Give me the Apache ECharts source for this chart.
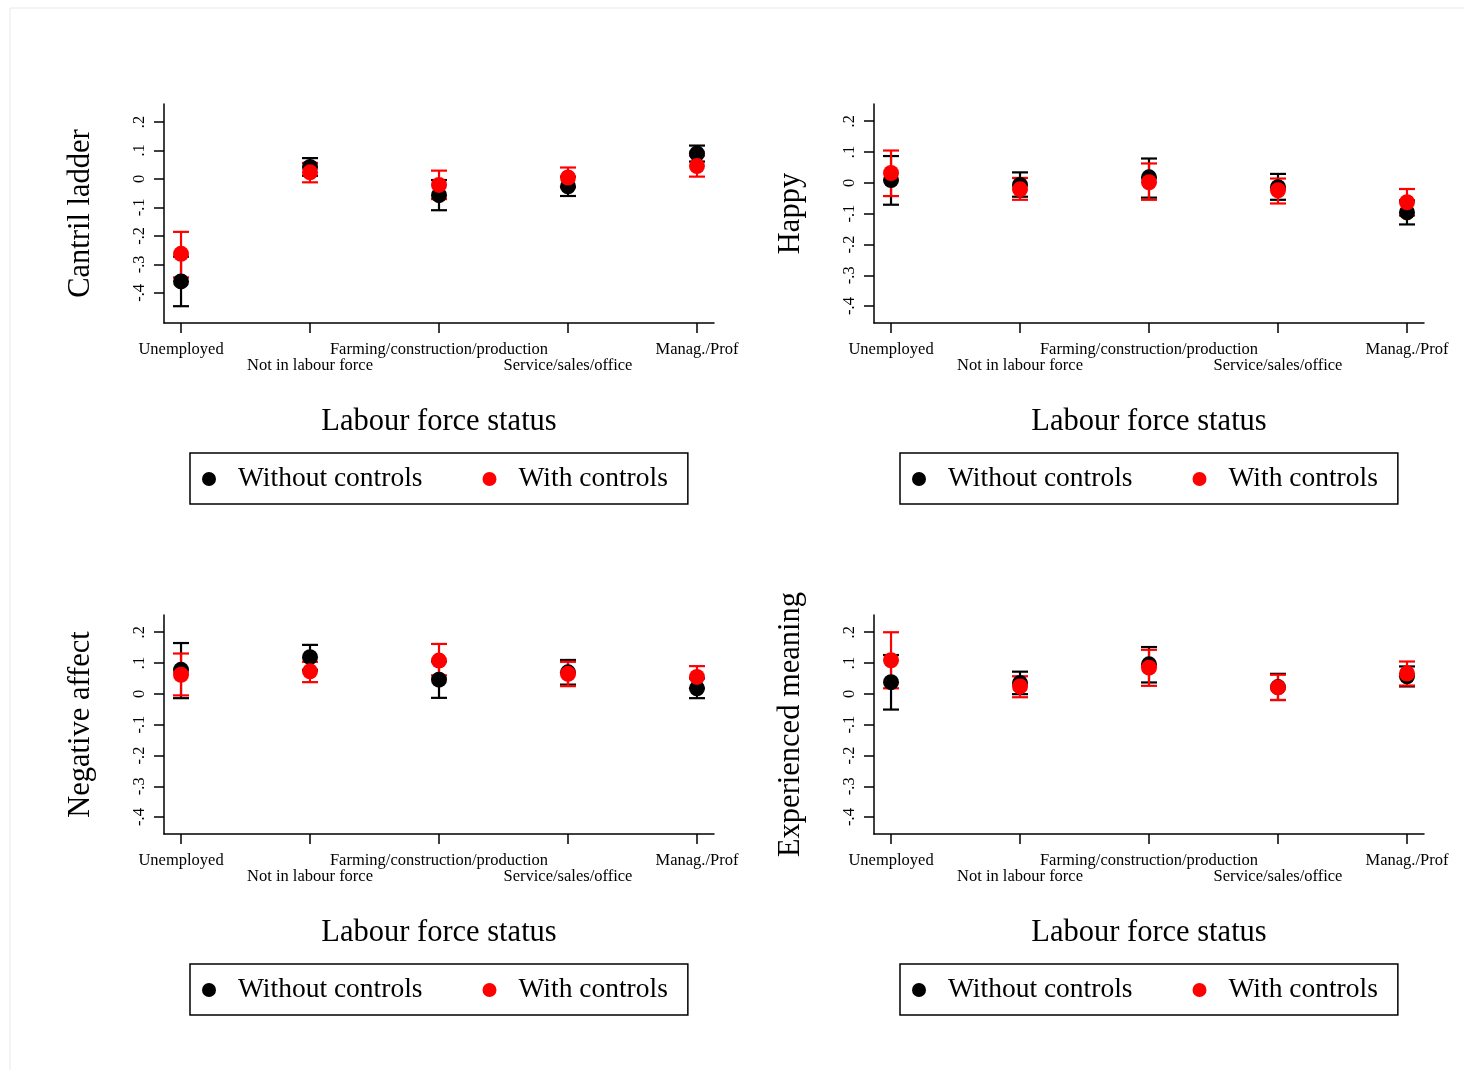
<!DOCTYPE html>
<html>
<head>
<meta charset="utf-8">
<title>Labour force status</title>
<script src="https://cdn.jsdelivr.net/npm/echarts@6/dist/echarts.min.js"></script>
<style>
  html, body { margin: 0; padding: 0; background: #fff; }
  #chart { width: 1464px; height: 1070px; }
</style>
</head>
<body>
<div id="chart"></div>
<script>
// categories and tick labels
const categories = ['Unemployed', 'Not in labour force', 'Farming/construction/production', 'Service/sales/office', 'Manag./Prof']
const yTicks = [-0.4, -0.3, -0.2, -0.1, 0, 0.1, 0.2]
const yTickLabels = ['-.4', '-.3', '-.2', '-.1', '0', '.1', '.2']

// Cantril ladder
const cantrilNoCtrl = [-0.360, 0.042, -0.057, -0.026, 0.089]
const cantrilNoCtrlLo = [-0.447, 0.011, -0.110, -0.060, 0.061]
const cantrilNoCtrlHi = [-0.273, 0.073, -0.004, 0.008, 0.117]
const cantrilCtrl = [-0.263, 0.023, -0.021, 0.005, 0.045]
const cantrilCtrlLo = [-0.346, -0.012, -0.071, -0.030, 0.008]
const cantrilCtrlHi = [-0.186, 0.056, 0.029, 0.040, 0.082]

// Happy
const happyNoCtrl = [0.009, -0.007, 0.018, -0.014, -0.096]
const happyNoCtrlLo = [-0.071, -0.045, -0.048, -0.055, -0.135]
const happyNoCtrlHi = [0.087, 0.034, 0.079, 0.029, -0.057]
const happyCtrl = [0.032, -0.021, 0.002, -0.024, -0.063]
const happyCtrlLo = [-0.043, -0.055, -0.055, -0.067, -0.106]
const happyCtrlHi = [0.105, 0.016, 0.063, 0.014, -0.020]

// Negative affect
const negNoCtrl = [0.078, 0.119, 0.046, 0.070, 0.018]
const negNoCtrlLo = [-0.014, 0.078, -0.013, 0.030, -0.014]
const negNoCtrlHi = [0.165, 0.159, 0.105, 0.110, 0.050]
const negCtrl = [0.062, 0.073, 0.108, 0.065, 0.055]
const negCtrlLo = [-0.005, 0.038, 0.060, 0.025, 0.018]
const negCtrlHi = [0.131, 0.104, 0.162, 0.104, 0.090]

// Experienced meaning
const meanNoCtrl = [0.038, 0.035, 0.096, 0.022, 0.057]
const meanNoCtrlLo = [-0.051, -0.001, 0.037, -0.020, 0.024]
const meanNoCtrlHi = [0.126, 0.072, 0.152, 0.065, 0.089]
const meanCtrl = [0.109, 0.024, 0.085, 0.021, 0.066]
const meanCtrlLo = [0.018, -0.011, 0.026, -0.020, 0.027]
const meanCtrlHi = [0.200, 0.057, 0.143, 0.062, 0.105]

const FONT = "'Liberation Serif', 'Times New Roman', serif"
const BLACK = '#000000'
const RED = '#ff0000'

const panels = [
  { title: 'Cantril ladder', left: 164, top: 104, ymin: -0.506, ymax: 0.263,
    noCtrl: [cantrilNoCtrl, cantrilNoCtrlLo, cantrilNoCtrlHi], ctrl: [cantrilCtrl, cantrilCtrlLo, cantrilCtrlHi] },
  { title: 'Happy', left: 874, top: 104, ymin: -0.455, ymax: 0.256,
    noCtrl: [happyNoCtrl, happyNoCtrlLo, happyNoCtrlHi], ctrl: [happyCtrl, happyCtrlLo, happyCtrlHi] },
  { title: 'Negative affect', left: 164, top: 615, ymin: -0.455, ymax: 0.256,
    noCtrl: [negNoCtrl, negNoCtrlLo, negNoCtrlHi], ctrl: [negCtrl, negCtrlLo, negCtrlHi] },
  { title: 'Experienced meaning', left: 874, top: 615, ymin: -0.455, ymax: 0.256,
    noCtrl: [meanNoCtrl, meanNoCtrlLo, meanNoCtrlHi], ctrl: [meanCtrl, meanCtrlLo, meanCtrlHi] }
]

const catIdx = categories.map((c, i) => i)

function errorBars(name, idx, vals, color) {
  return {
    name: name,
    type: 'custom',
    xAxisIndex: idx,
    yAxisIndex: idx,
    itemStyle: { color: color },
    data: catIdx.map(i => [i, vals[1][i], vals[2][i]]),
    renderItem: function (params, api) {
      const lo = api.coord([api.value(0), api.value(1)])
      const hi = api.coord([api.value(0), api.value(2)])
      const hw = 8
      const style = { stroke: color, lineWidth: 2.2 }
      return {
        type: 'group',
        children: [
          { type: 'line', shape: { x1: lo[0], y1: lo[1], x2: hi[0], y2: hi[1] }, style: style },
          { type: 'line', shape: { x1: lo[0] - hw, y1: lo[1], x2: lo[0] + hw, y2: lo[1] }, style: style },
          { type: 'line', shape: { x1: hi[0] - hw, y1: hi[1], x2: hi[0] + hw, y2: hi[1] }, style: style }
        ]
      }
    }
  }
}

function points(name, idx, vals, color) {
  return {
    name: name,
    type: 'scatter',
    xAxisIndex: idx,
    yAxisIndex: idx,
    symbol: 'circle',
    symbolSize: 16,
    itemStyle: { color: color, opacity: 1 },
    data: catIdx.map(i => [i, vals[0][i]])
  }
}

const grid = [], xAxis = [], yAxis = [], series = [], legend = []

panels.forEach((p, k) => {
  grid.push({ left: p.left, top: p.top, width: 550, height: 219 })
  xAxis.push({
    type: 'value',
    gridIndex: k,
    min: -0.132,
    max: 4.132,
    name: 'Labour force status',
    nameLocation: 'middle',
    nameGap: 83,
    nameTextStyle: { fontFamily: FONT, fontSize: 30.5, color: '#000' },
    axisLine: { show: true, onZero: false, lineStyle: { color: '#000', width: 1.5 } },
    axisTick: { show: true, length: 10, customValues: catIdx, lineStyle: { color: '#000', width: 1.5 } },
    axisLabel: {
      show: true,
      customValues: catIdx,
      margin: 19,
      fontFamily: FONT,
      fontSize: 16.5,
      color: '#000',
      lineHeight: 16,
      formatter: v => (Math.round(v) % 2 === 1 ? '\n' : '') + categories[Math.round(v)]
    },
    splitLine: { show: false }
  })
  yAxis.push({
    type: 'value',
    gridIndex: k,
    min: p.ymin,
    max: p.ymax,
    name: p.title,
    nameLocation: 'middle',
    nameGap: 68,
    nameRotate: 90,
    nameTextStyle: { fontFamily: FONT, fontSize: 30.5, color: '#000' },
    axisLine: { show: true, onZero: false, lineStyle: { color: '#000', width: 1.5 } },
    axisTick: { show: true, length: 10, customValues: yTicks, lineStyle: { color: '#000', width: 1.5 } },
    axisLabel: {
      show: true,
      customValues: yTicks,
      rotate: 90,
      margin: 16,
      fontFamily: FONT,
      fontSize: 16.5,
      color: '#000',
      formatter: v => {
        const j = yTicks.findIndex(t => Math.abs(t - v) < 1e-9)
        return j >= 0 ? yTickLabels[j] : ''
      }
    },
    splitLine: { show: false }
  })
  series.push(errorBars('Without controls', k, p.noCtrl, BLACK))
  series.push(points('Without controls', k, p.noCtrl, BLACK))
  series.push(errorBars('With controls', k, p.ctrl, RED))
  series.push(points('With controls', k, p.ctrl, RED))
  legend.push({
    left: p.left + 26,
    top: p.top + 349,
    orient: 'horizontal',
    data: [
      { name: 'Without controls', icon: 'circle' },
      { name: 'With controls', icon: 'circle' }
    ],
    itemWidth: 14,
    itemHeight: 14,
    itemGap: 60,
    padding: [12, 20, 11, 12],
    borderColor: '#000',
    borderWidth: 1.5,
    borderRadius: 0,
    selectedMode: false,
    textStyle: { fontFamily: FONT, fontSize: 27.5, color: '#000', padding: [3, 0, 0, 17] }
  })
})

const chart = echarts.init(document.getElementById('chart'), null, { renderer: 'canvas' })
chart.setOption({
  backgroundColor: '#ffffff',
  animation: false,
  graphic: [{
    type: 'rect',
    shape: { x: 10, y: 8, width: 1480, height: 1090 },
    style: { fill: 'none', stroke: '#e2ebed', lineWidth: 1 },
    silent: true
  }],
  grid: grid,
  xAxis: xAxis,
  yAxis: yAxis,
  legend: legend,
  series: series
})
</script>
</body>
</html>
